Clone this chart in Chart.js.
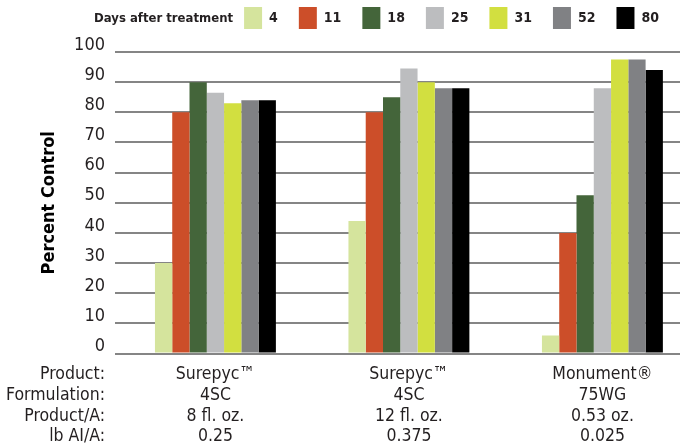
<!DOCTYPE html>
<html>
<head>
<meta charset="utf-8">
<script src="https://cdn.jsdelivr.net/npm/chart.js@4.4.0/dist/chart.umd.min.js"></script>
<style>
    html, body { margin: 0; padding: 0; background: #ffffff; }
    #wrap { width: 681px; height: 444px; }
</style>
</head>
<body>
<div id="wrap"><canvas id="controlChart"></canvas></div>
<script>
const days = ['4', '11', '18', '25', '31', '52', '80'];
const dayColors = ['#d5e49d', '#cc4e29', '#44653a', '#bcbdbf', '#d2df40', '#808184', '#000000'];

// percent control per treatment group, one array per rating date
const day4 = [30, 44, 6];
const day11 = [80, 80, 40];
const day18 = [90, 85, 52.5];
const day25 = [86.5, 94.5, 88];
const day31 = [83, 90, 97.5];
const day52 = [84, 88, 97.5];
const day80 = [84, 88, 94];
const seriesValues = [day4, day11, day18, day25, day31, day52, day80];

const products = ['Surepyc\u2122', 'Surepyc\u2122', 'Monument\u00ae'];
const formulations = ['4SC', '4SC', '75WG'];
const productRates = ['8 fl. oz.', '12 fl. oz.', '0.53 oz.'];
const aiRates = ['0.25', '0.375', '0.025'];
const rowHeaders = ['Product:', 'Formulation:', 'Product/A:', 'lb AI/A:'];
const yTicks = [0, 10, 20, 30, 40, 50, 60, 70, 80, 90, 100];

const narrow = "'DejaVu Sans Condensed', 'Liberation Sans Narrow', sans-serif";
const textColor = '#231f20';
const rowFont = 17.5;
const rowLineHeight = 20.6;
const xPadding = 11;

// legend is a bit taller than chart.js makes it, so the plot starts lower
const legendHeight = {
    id: 'legendHeight',
    beforeInit(chart) {
        const fit = chart.legend.fit;
        chart.legend.fit = function () {
            fit.call(this);
            this.height = 66;
        };
    }
};

// legend title and the row headers of the table under the axis
const extraText = {
    id: 'extraText',
    afterDraw(chart) {
        const ctx = chart.ctx;
        const box = chart.legend.legendHitBoxes[0];
        ctx.save();
        ctx.fillStyle = textColor;
        ctx.textAlign = 'right';
        ctx.textBaseline = 'middle';
        ctx.font = 'bold 13px ' + narrow;
        ctx.fillText('Days after treatment', box.left - 11, box.top + box.height / 2 + 1);
        const xs = chart.scales.x;
        ctx.font = rowFont + 'px ' + narrow;
        rowHeaders.forEach((t, i) => {
            ctx.fillText(t, chart.chartArea.left - 10, xs.top + xPadding + rowLineHeight / 2 + i * rowLineHeight);
        });
        ctx.restore();
    }
};

const datasets = days.map((d, i) => ({
    label: d,
    data: seriesValues[i].map((v, j) => ({ x: j, y: v })),
    backgroundColor: dayColors[i],
    borderColor: dayColors[i],
    borderWidth: 0,
    categoryPercentage: 0.625,
    barPercentage: 1
}));

new Chart(document.getElementById('controlChart'), {
    type: 'bar',
    data: { datasets: datasets },
    options: {
        responsive: true,
        maintainAspectRatio: false,
        animation: false,
        layout: { padding: { top: -14, right: 1, bottom: -14, left: 0 } },
        plugins: {
            tooltip: { enabled: false },
            legend: {
                position: 'top',
                align: 'end',
                labels: {
                    boxWidth: 18,
                    boxHeight: 22,
                    padding: 21,
                    color: textColor,
                    font: { family: narrow, size: 14, weight: 'bold' }
                }
            }
        },
        scales: {
            x: {
                type: 'linear',
                min: -0.519,
                max: 2.401,
                offset: false,
                grid: { display: false, drawTicks: false },
                border: { display: false },
                afterBuildTicks: (scale) => {
                    scale.ticks = products.map((_, i) => ({ value: i }));
                },
                ticks: {
                    autoSkip: false,
                    maxRotation: 0,
                    padding: xPadding,
                    color: textColor,
                    font: { family: narrow, size: rowFont, lineHeight: rowLineHeight / rowFont },
                    callback: (value, i) => [products[i], formulations[i], productRates[i], aiRates[i]]
                }
            },
            y: {
                min: 0,
                max: 100,
                afterFit: (scale) => { scale.width = 115; },
                afterBuildTicks: (scale) => {
                    scale.ticks = yTicks.map(v => ({ value: v }));
                },
                grid: { color: '#858585', lineWidth: 2, drawTicks: false },
                border: { display: false },
                ticks: {
                    padding: 10,
                    labelOffset: -7,
                    color: textColor,
                    font: { family: narrow, size: 18 }
                },
                title: {
                    display: true,
                    text: 'Percent Control',
                    color: '#000000',
                    padding: { top: 39, bottom: 0 },
                    font: { family: narrow, size: 18, weight: 'bold' }
                }
            }
        }
    },
    plugins: [legendHeight, extraText]
});
</script>
</body>
</html>
